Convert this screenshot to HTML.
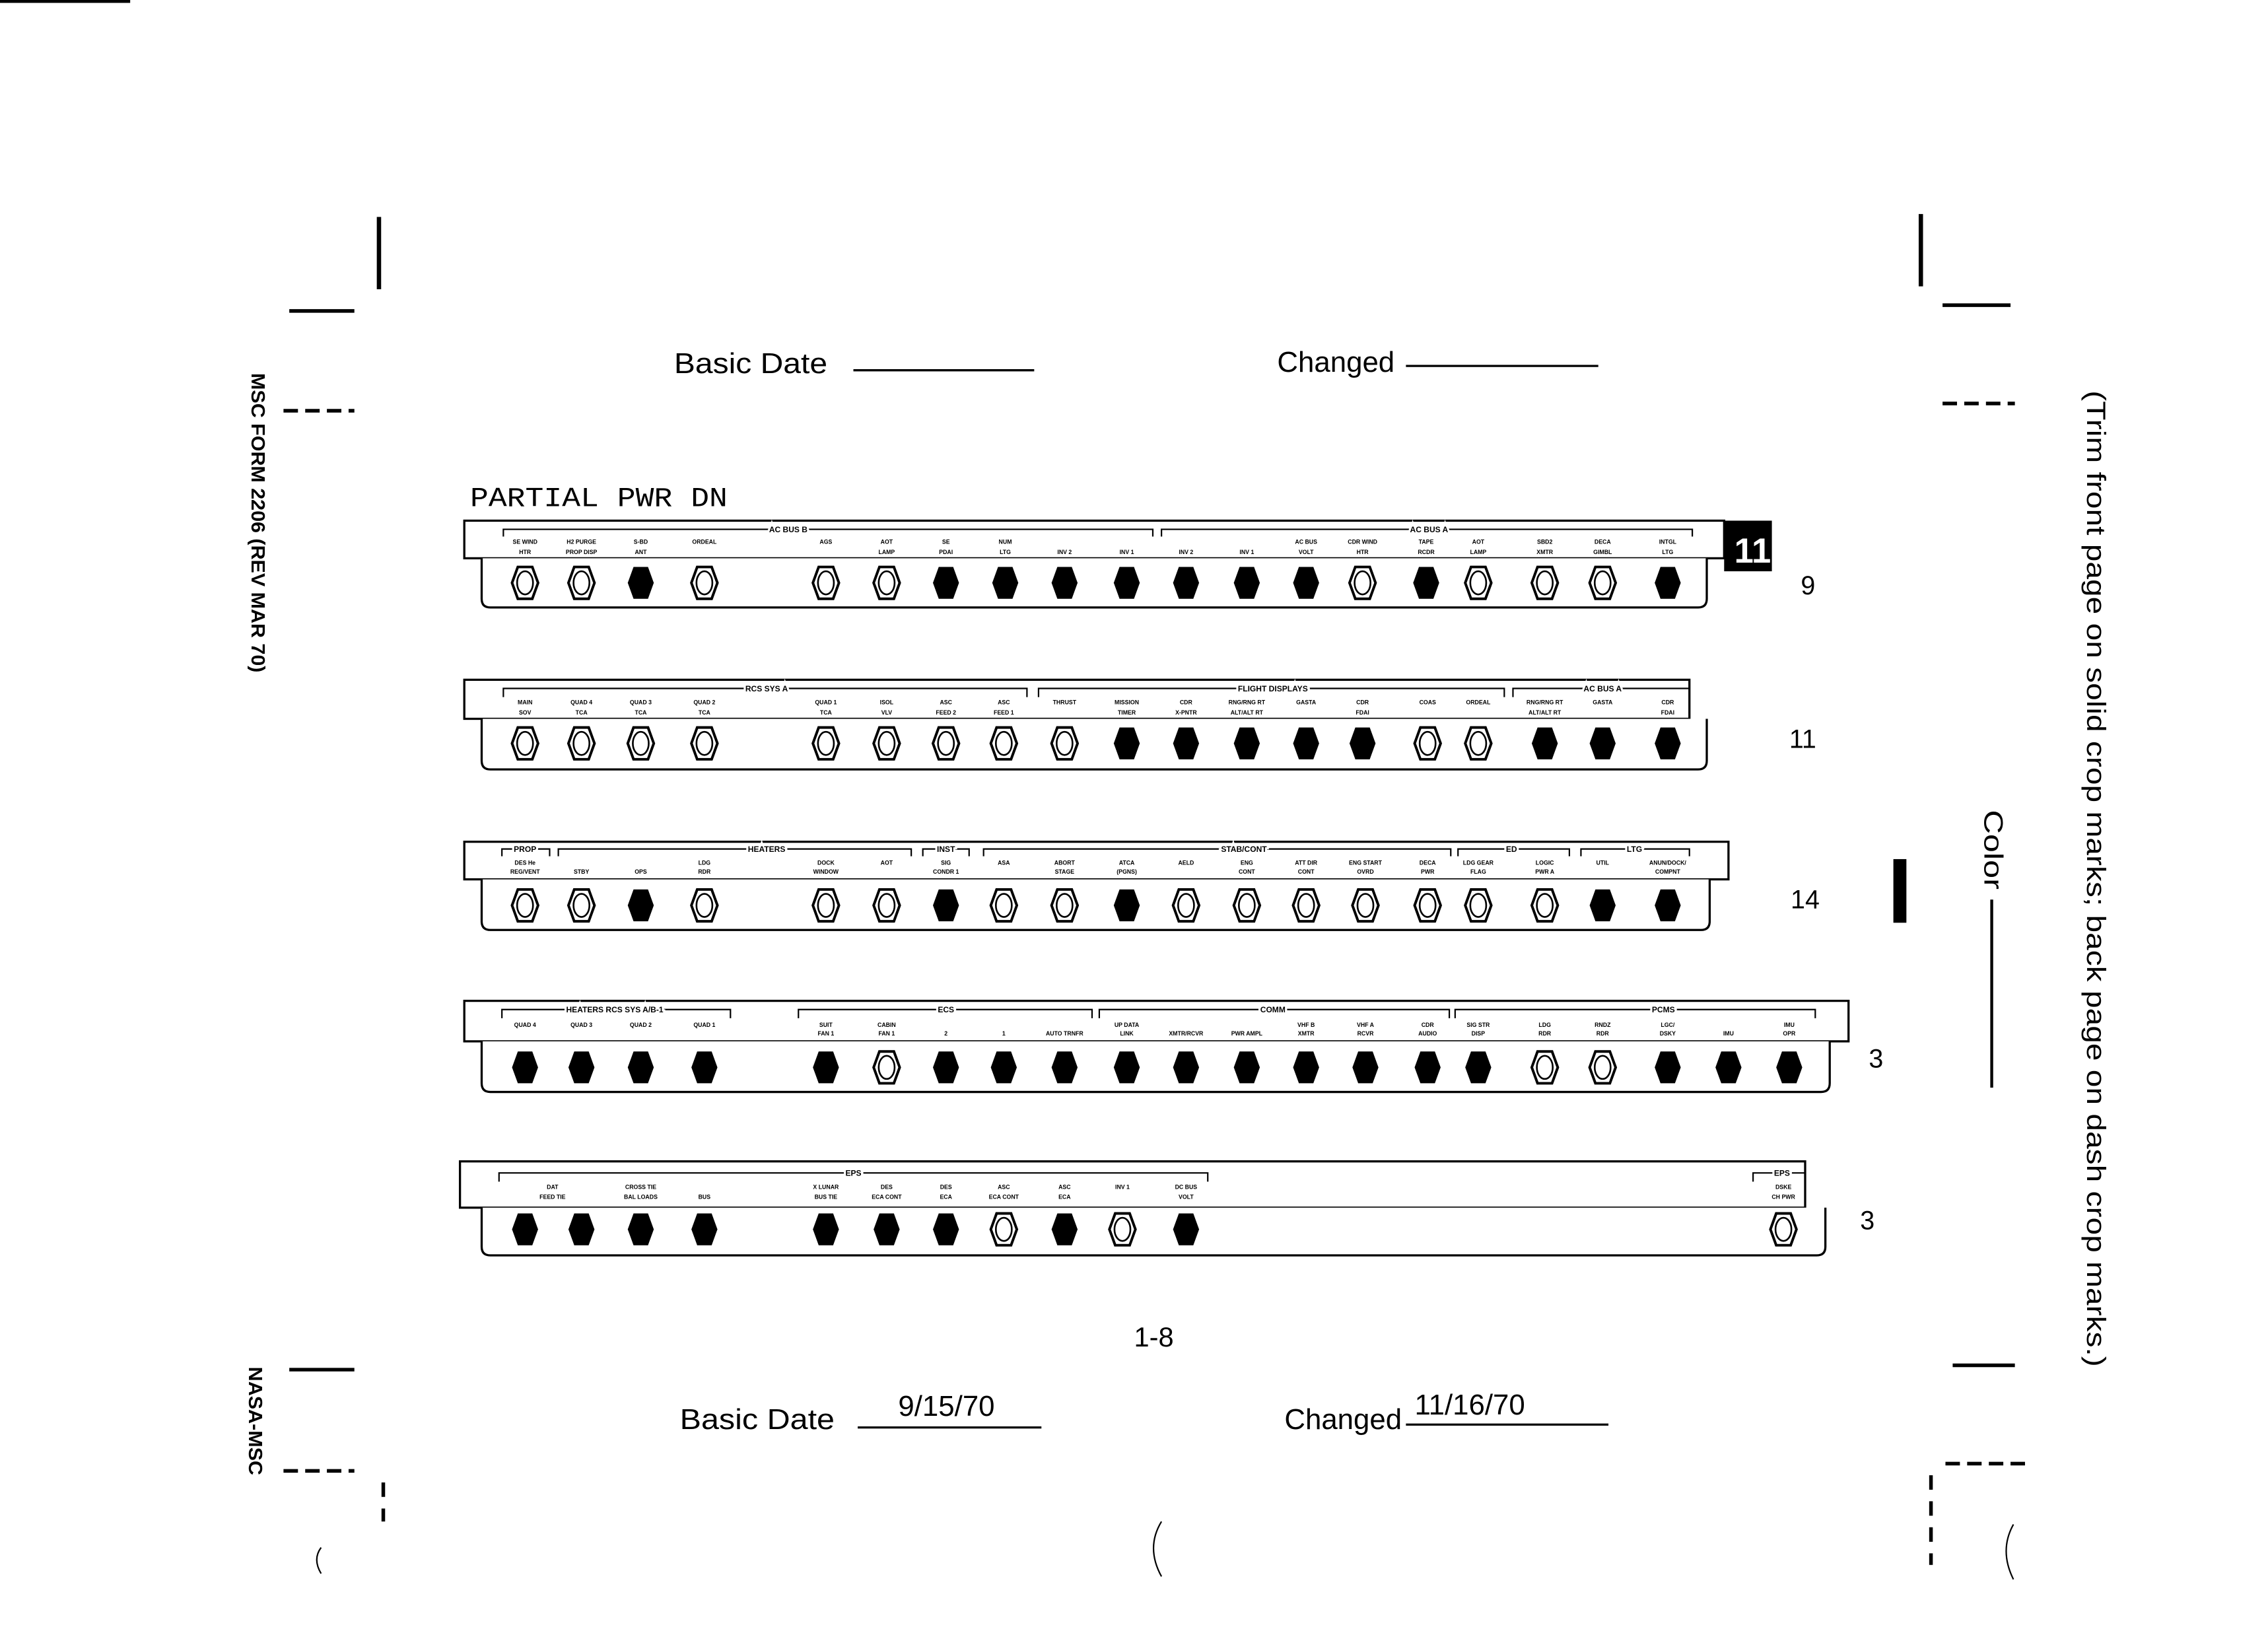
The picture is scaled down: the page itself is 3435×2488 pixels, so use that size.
<!DOCTYPE html>
<html><head><meta charset="utf-8"><style>
html,body{margin:0;padding:0;background:#fff}
svg{display:block}
text{font-family:"Liberation Sans",sans-serif;fill:#000}
.lb{font-size:4px;font-weight:bold}
.hd{font-size:5.5px;font-weight:bold;paint-order:stroke;stroke:#fff;stroke-width:3px}
</style></head><body>
<svg width="3435" height="2488" viewBox="0 0 1568 1136" preserveAspectRatio="none" xmlns="http://www.w3.org/2000/svg" xmlns:xlink="http://www.w3.org/1999/xlink">
<defs>
<g id="F"><polygon points="-5,-11 5,-11 9,0 5,11 -5,11 -9,0" fill="#000"/></g>
<g id="O"><polygon points="-5,-11 5,-11 9,0 5,11 -5,11 -9,0" fill="#fff" stroke="#000" stroke-width="1.8"/><ellipse cx="0" cy="0" rx="5.5" ry="8" fill="none" stroke="#000" stroke-width="1.2"/></g>
</defs>
<rect width="1568" height="1136" fill="#fff"/>
<g stroke="#000" fill="none">
<line x1="0" y1="1" x2="90" y2="1" stroke-width="2"/>
<line x1="262" y1="150" x2="262" y2="200" stroke-width="3"/>
<line x1="200" y1="215" x2="245" y2="215" stroke-width="2.5"/>
<line x1="196" y1="284" x2="245" y2="284" stroke-width="2.5" stroke-dasharray="10,5"/>
<line x1="1328" y1="148" x2="1328" y2="198" stroke-width="3"/>
<line x1="1343" y1="211" x2="1390" y2="211" stroke-width="2.5"/>
<line x1="1343" y1="279" x2="1393" y2="279" stroke-width="2.5" stroke-dasharray="10,5"/>
<line x1="200" y1="947" x2="245" y2="947" stroke-width="2.5"/>
<line x1="196" y1="1017" x2="245" y2="1017" stroke-width="2.5" stroke-dasharray="10,5"/>
<line x1="265" y1="1025" x2="265" y2="1052" stroke-width="2.5" stroke-dasharray="10,8"/>
<line x1="1350" y1="944" x2="1393" y2="944" stroke-width="2.5"/>
<line x1="1345" y1="1012" x2="1400" y2="1012" stroke-width="2.5" stroke-dasharray="10,5"/>
<line x1="1335" y1="1020" x2="1335" y2="1082" stroke-width="2.5" stroke-dasharray="10,8"/>
<line x1="590" y1="256" x2="715" y2="256" stroke-width="1.5"/>
<line x1="972" y1="253" x2="1105" y2="253" stroke-width="1.5"/>
<line x1="593" y1="987" x2="720" y2="987" stroke-width="1.5"/>
<line x1="972" y1="985" x2="1112" y2="985" stroke-width="1.5"/>
<line x1="1377" y1="622" x2="1377" y2="752" stroke-width="2"/>
</g>
<rect x="1309" y="594" width="9" height="44" fill="#000"/>
<text x="466" y="258" font-size="20" textLength="106" lengthAdjust="spacingAndGlyphs">Basic Date</text>
<text x="883" y="257" font-size="20">Changed</text>
<text x="470" y="988" font-size="20" textLength="107" lengthAdjust="spacingAndGlyphs">Basic Date</text>
<text x="621" y="979" font-size="20">9/15/70</text>
<text x="888" y="988" font-size="20">Changed</text>
<text x="978" y="978" font-size="20">11/16/70</text>
<text x="784" y="931" font-size="19">1-8</text>
<text x="325" y="350" font-size="19" style="font-family:'Liberation Mono',monospace" textLength="178" lengthAdjust="spacingAndGlyphs">PARTIAL  PWR  DN</text>
<text transform="translate(174,258) rotate(90)" font-size="13" font-weight="bold" textLength="207" lengthAdjust="spacingAndGlyphs">MSC FORM 2206 (REV MAR 70)</text>
<text transform="translate(172,945) rotate(90)" font-size="13" font-weight="bold" textLength="75" lengthAdjust="spacingAndGlyphs">NASA-MSC</text>
<text transform="translate(1443,270) rotate(90)" font-size="18" textLength="675" lengthAdjust="spacingAndGlyphs">(Trim front page on solid crop marks; back page on dash crop marks.)</text>
<text transform="translate(1372,560) rotate(90)" font-size="18" textLength="55" lengthAdjust="spacingAndGlyphs">Color</text>
<text x="1245" y="411" font-size="18">9</text>
<text x="1237" y="517" font-size="18">11</text>
<text x="1238" y="628" font-size="18">14</text>
<text x="1292" y="738" font-size="18">3</text>
<text x="1286" y="850" font-size="18">3</text>
<rect x="1192" y="360" width="33" height="35" fill="#000"/>
<text x="1199" y="389" font-size="24" font-weight="bold" style="fill:#fff">11</text>

<g fill="#fff" stroke="#000" stroke-width="1.5">
<rect x="321" y="360" width="871" height="26"/>
<path d="M333 386 V414 Q333 420 339 420 H1174 Q1180 420 1180 414 V386"/>
<rect x="321" y="470" width="847" height="27"/>
<path d="M333 497 V526 Q333 532 339 532 H1174 Q1180 532 1180 526 V497"/>
<rect x="321" y="582" width="874" height="26"/>
<path d="M333 608 V637 Q333 643 339 643 H1176 Q1182 643 1182 637 V608"/>
<rect x="321" y="692" width="957" height="28"/>
<path d="M333 720 V749 Q333 755 339 755 H1259 Q1265 755 1265 749 V720"/>
<rect x="318" y="803" width="930" height="32"/>
<path d="M333 835 V862 Q333 868 339 868 H1256 Q1262 868 1262 862 V835"/>
</g>
<g stroke="#000" stroke-width="1" fill="none">
<path d="M348 371 V366 H797 V371"/><path d="M803 371 V366 H1170 V371"/>
<path d="M348 482 V476 H710 V482"/><path d="M718 482 V476 H1040 V482"/><path d="M1046 482 V476 H1168 V482"/>
<path d="M347 592 V587 H380 V592"/><path d="M386 592 V587 H630 V592"/><path d="M638 592 V587 H670 V592"/><path d="M680 592 V587 H1003 V592"/><path d="M1008 592 V587 H1085 V592"/><path d="M1093 592 V587 H1168 V592"/>
<path d="M347 704 V698 H505 V704"/><path d="M552 704 V698 H755 V704"/><path d="M760 704 V698 H1002 V704"/><path d="M1006 704 V698 H1255 V704"/>
<path d="M345 817 V811 H835 V817"/><path d="M1212 817 V811 H1248 V817"/>
</g>
<g class="hd" text-anchor="middle">
<text x="545" y="368">AC BUS B</text><text x="988" y="368">AC BUS A</text>
<text x="530" y="478">RCS SYS A</text><text x="880" y="478">FLIGHT DISPLAYS</text><text x="1108" y="478">AC BUS A</text>
<text x="363" y="589">PROP</text><text x="530" y="589">HEATERS</text><text x="654" y="589">INST</text><text x="860" y="589">STAB/CONT</text><text x="1045" y="589">ED</text><text x="1130" y="589">LTG</text>
<text x="425" y="700">HEATERS RCS SYS A/B-1</text><text x="654" y="700">ECS</text><text x="880" y="700">COMM</text><text x="1150" y="700">PCMS</text>
<text x="590" y="813">EPS</text><text x="1232" y="813">EPS</text>
</g>
<g class="lb" text-anchor="middle">
<text x="363" y="376">SE WIND</text><text x="363" y="383">HTR</text><text x="402" y="376">H2 PURGE</text><text x="402" y="383">PROP DISP</text><text x="443" y="376">S-BD</text><text x="443" y="383">ANT</text><text x="487" y="376">ORDEAL</text>
<text x="571" y="376">AGS</text><text x="613" y="376">AOT</text><text x="613" y="383">LAMP</text><text x="654" y="376">SE</text><text x="654" y="383">PDAI</text><text x="695" y="376">NUM</text><text x="695" y="383">LTG</text><text x="736" y="383">INV 2</text><text x="779" y="383">INV 1</text>
<text x="820" y="383">INV 2</text><text x="862" y="383">INV 1</text><text x="903" y="376">AC BUS</text><text x="903" y="383">VOLT</text><text x="942" y="376">CDR WIND</text><text x="942" y="383">HTR</text><text x="986" y="376">TAPE</text><text x="986" y="383">RCDR</text><text x="1022" y="376">AOT</text><text x="1022" y="383">LAMP</text><text x="1068" y="376">SBD2</text><text x="1068" y="383">XMTR</text><text x="1108" y="376">DECA</text><text x="1108" y="383">GIMBL</text><text x="1153" y="376">INTGL</text><text x="1153" y="383">LTG</text>
</g>
<g class="lb" text-anchor="middle">
<text x="363" y="487">MAIN</text><text x="363" y="494">SOV</text><text x="402" y="487">QUAD 4</text><text x="402" y="494">TCA</text><text x="443" y="487">QUAD 3</text><text x="443" y="494">TCA</text><text x="487" y="487">QUAD 2</text><text x="487" y="494">TCA</text>
<text x="571" y="487">QUAD 1</text><text x="571" y="494">TCA</text><text x="613" y="487">ISOL</text><text x="613" y="494">VLV</text><text x="654" y="487">ASC</text><text x="654" y="494">FEED 2</text><text x="694" y="487">ASC</text><text x="694" y="494">FEED 1</text><text x="736" y="487">THRUST</text><text x="779" y="487">MISSION</text><text x="779" y="494">TIMER</text><text x="820" y="487">CDR</text><text x="820" y="494">X-PNTR</text><text x="862" y="487">RNG/RNG RT</text><text x="862" y="494">ALT/ALT RT</text><text x="903" y="487">GASTA</text><text x="942" y="487">CDR</text><text x="942" y="494">FDAI</text><text x="987" y="487">COAS</text><text x="1022" y="487">ORDEAL</text><text x="1068" y="487">RNG/RNG RT</text><text x="1068" y="494">ALT/ALT RT</text><text x="1108" y="487">GASTA</text><text x="1153" y="487">CDR</text><text x="1153" y="494">FDAI</text>
</g>
<g class="lb" text-anchor="middle">
<text x="363" y="598">DES He</text><text x="363" y="604">REG/VENT</text><text x="402" y="604">STBY</text><text x="443" y="604">OPS</text><text x="487" y="598">LDG</text><text x="487" y="604">RDR</text><text x="571" y="598">DOCK</text><text x="571" y="604">WINDOW</text><text x="613" y="598">AOT</text><text x="654" y="598">SIG</text><text x="654" y="604">CONDR 1</text>
<text x="694" y="598">ASA</text><text x="736" y="598">ABORT</text><text x="736" y="604">STAGE</text><text x="779" y="598">ATCA</text><text x="779" y="604">(PGNS)</text><text x="820" y="598">AELD</text><text x="862" y="598">ENG</text><text x="862" y="604">CONT</text><text x="903" y="598">ATT DIR</text><text x="903" y="604">CONT</text><text x="944" y="598">ENG START</text><text x="944" y="604">OVRD</text><text x="987" y="598">DECA</text><text x="987" y="604">PWR</text><text x="1022" y="598">LDG GEAR</text><text x="1022" y="604">FLAG</text><text x="1068" y="598">LOGIC</text><text x="1068" y="604">PWR A</text><text x="1108" y="598">UTIL</text><text x="1153" y="598">ANUN/DOCK/</text><text x="1153" y="604">COMPNT</text>
</g>
<g class="lb" text-anchor="middle">
<text x="363" y="710">QUAD 4</text><text x="402" y="710">QUAD 3</text><text x="443" y="710">QUAD 2</text><text x="487" y="710">QUAD 1</text><text x="571" y="710">SUIT</text><text x="571" y="716">FAN 1</text><text x="613" y="710">CABIN</text><text x="613" y="716">FAN 1</text><text x="654" y="716">2</text><text x="694" y="716">1</text><text x="736" y="716">AUTO TRNFR</text><text x="779" y="710">UP DATA</text><text x="779" y="716">LINK</text><text x="820" y="716">XMTR/RCVR</text><text x="862" y="716">PWR AMPL</text><text x="903" y="710">VHF B</text><text x="903" y="716">XMTR</text><text x="944" y="710">VHF A</text><text x="944" y="716">RCVR</text><text x="987" y="710">CDR</text><text x="987" y="716">AUDIO</text><text x="1022" y="710">SIG STR</text><text x="1022" y="716">DISP</text><text x="1068" y="710">LDG</text><text x="1068" y="716">RDR</text><text x="1108" y="710">RNDZ</text><text x="1108" y="716">RDR</text><text x="1153" y="710">LGC/</text><text x="1153" y="716">DSKY</text><text x="1195" y="716">IMU</text><text x="1237" y="710">IMU</text><text x="1237" y="716">OPR</text>
</g>
<g class="lb" text-anchor="middle">
<text x="382" y="822">DAT</text><text x="382" y="829">FEED TIE</text><text x="443" y="822">CROSS TIE</text><text x="443" y="829">BAL LOADS</text><text x="487" y="829">BUS</text><text x="571" y="822">X LUNAR</text><text x="571" y="829">BUS TIE</text><text x="613" y="822">DES</text><text x="613" y="829">ECA CONT</text><text x="654" y="822">DES</text><text x="654" y="829">ECA</text><text x="694" y="822">ASC</text><text x="694" y="829">ECA CONT</text><text x="736" y="822">ASC</text><text x="736" y="829">ECA</text><text x="776" y="822">INV 1</text><text x="820" y="822">DC BUS</text><text x="820" y="829">VOLT</text><text x="1233" y="822">DSKE</text><text x="1233" y="829">CH PWR</text>
</g>

<g transform="translate(0,403)">
<use xlink:href="#O" x="363"/><use xlink:href="#O" x="402"/><use xlink:href="#F" x="443"/><use xlink:href="#O" x="487"/><use xlink:href="#O" x="571"/><use xlink:href="#O" x="613"/><use xlink:href="#F" x="654"/><use xlink:href="#F" x="695"/><use xlink:href="#F" x="736"/><use xlink:href="#F" x="779"/><use xlink:href="#F" x="820"/><use xlink:href="#F" x="862"/><use xlink:href="#F" x="903"/><use xlink:href="#O" x="942"/><use xlink:href="#F" x="986"/><use xlink:href="#O" x="1022"/><use xlink:href="#O" x="1068"/><use xlink:href="#O" x="1108"/><use xlink:href="#F" x="1153"/>
</g>
<g transform="translate(0,514)">
<use xlink:href="#O" x="363"/><use xlink:href="#O" x="402"/><use xlink:href="#O" x="443"/><use xlink:href="#O" x="487"/><use xlink:href="#O" x="571"/><use xlink:href="#O" x="613"/><use xlink:href="#O" x="654"/><use xlink:href="#O" x="694"/><use xlink:href="#O" x="736"/><use xlink:href="#F" x="779"/><use xlink:href="#F" x="820"/><use xlink:href="#F" x="862"/><use xlink:href="#F" x="903"/><use xlink:href="#F" x="942"/><use xlink:href="#O" x="987"/><use xlink:href="#O" x="1022"/><use xlink:href="#F" x="1068"/><use xlink:href="#F" x="1108"/><use xlink:href="#F" x="1153"/>
</g>
<g transform="translate(0,626)">
<use xlink:href="#O" x="363"/><use xlink:href="#O" x="402"/><use xlink:href="#F" x="443"/><use xlink:href="#O" x="487"/><use xlink:href="#O" x="571"/><use xlink:href="#O" x="613"/><use xlink:href="#F" x="654"/><use xlink:href="#O" x="694"/><use xlink:href="#O" x="736"/><use xlink:href="#F" x="779"/><use xlink:href="#O" x="820"/><use xlink:href="#O" x="862"/><use xlink:href="#O" x="903"/><use xlink:href="#O" x="944"/><use xlink:href="#O" x="987"/><use xlink:href="#O" x="1022"/><use xlink:href="#O" x="1068"/><use xlink:href="#F" x="1108"/><use xlink:href="#F" x="1153"/>
</g>
<g transform="translate(0,738)">
<use xlink:href="#F" x="363"/><use xlink:href="#F" x="402"/><use xlink:href="#F" x="443"/><use xlink:href="#F" x="487"/><use xlink:href="#F" x="571"/><use xlink:href="#O" x="613"/><use xlink:href="#F" x="654"/><use xlink:href="#F" x="694"/><use xlink:href="#F" x="736"/><use xlink:href="#F" x="779"/><use xlink:href="#F" x="820"/><use xlink:href="#F" x="862"/><use xlink:href="#F" x="903"/><use xlink:href="#F" x="944"/><use xlink:href="#F" x="987"/><use xlink:href="#F" x="1022"/><use xlink:href="#O" x="1068"/><use xlink:href="#O" x="1108"/><use xlink:href="#F" x="1153"/><use xlink:href="#F" x="1195"/><use xlink:href="#F" x="1237"/>
</g>
<g transform="translate(0,850)">
<use xlink:href="#F" x="363"/><use xlink:href="#F" x="402"/><use xlink:href="#F" x="443"/><use xlink:href="#F" x="487"/><use xlink:href="#F" x="571"/><use xlink:href="#F" x="613"/><use xlink:href="#F" x="654"/><use xlink:href="#O" x="694"/><use xlink:href="#F" x="736"/><use xlink:href="#O" x="776"/><use xlink:href="#F" x="820"/><use xlink:href="#O" x="1233"/>
</g>
<g fill="none" stroke="#000" stroke-width="1">
<path d="M222 1070 Q216 1078 222 1088"/><path d="M803 1052 Q792 1070 803 1090"/><path d="M1392 1054 Q1382 1072 1392 1092"/>
</g>
</svg>
</body></html>
